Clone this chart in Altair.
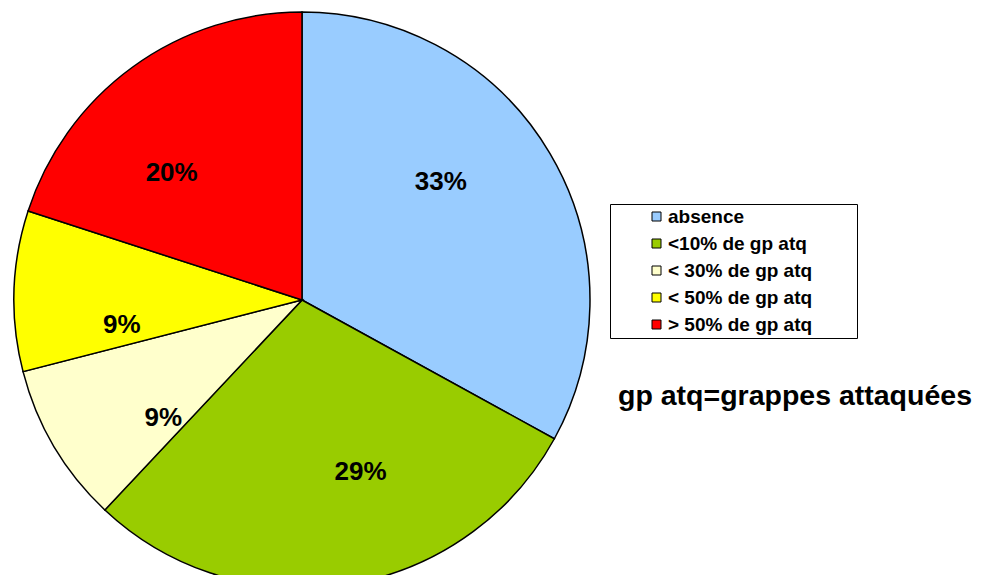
import altair as alt
import pandas as pd

categories = ["absence", "<10% de gp atq", "< 30% de gp atq", "< 50% de gp atq", "> 50% de gp atq"]
values = [33, 29, 9, 9, 20]
labels = ["33%", "29%", "9%", "9%", "20%"]
colors = ["#99CCFF", "#99CC00", "#FFFFCC", "#FFFF00", "#FF0000"]
note = ["gp atq=grappes attaquées"]

df = pd.DataFrame({"cat": categories, "val": values, "lab": labels, "idx": list(range(len(categories)))})

CX, CY, R = 294, 292, 288
FONT = "Liberation Sans"

base = alt.Chart(df).encode(
    theta=alt.Theta("val:Q", stack=True),
    order=alt.Order("idx:O"),
)

pie = base.mark_arc(outerRadius=R, stroke="black", strokeWidth=1.5).encode(
    x=alt.value(CX), y=alt.value(CY),
    color=alt.Color("cat:N", scale=alt.Scale(domain=categories, range=colors),
                    legend=alt.Legend(title=" ")),
)

txt = base.mark_text(radius=182, thetaOffset=-0.17, font=FONT, fontWeight="bold", fontSize=26,
                     color="black").encode(
    x=alt.value(CX), y=alt.value(CY),
    text="lab:N",
)

note_layer = alt.Chart(pd.DataFrame({"t": note})).mark_text(
    font=FONT, fontWeight="bold", fontSize=28.5, color="black", align="center", baseline="middle"
).encode(x=alt.value(787), y=alt.value(388), text="t:N")

chart = alt.layer(pie, txt, note_layer).properties(
    width=976, height=567, autosize=alt.AutoSizeParams(type="none"), padding=0
).configure_view(stroke=None).configure_legend(
    orient="none", legendX=602, legendY=196,
    strokeColor="black", fillColor="white", padding=3,
    titleOrient="right", titlePadding=42, titleFontSize=8,
    labelFont=FONT, labelFontWeight="bold", labelFontSize=19, labelColor="black",
    symbolType="square", symbolSize=81, symbolStrokeColor="black", symbolStrokeWidth=1,
    symbolOffset=34, rowPadding=7, labelOffset=2,
)

chart.save("out.html", embed_options={"renderer": "svg", "actions": False})
